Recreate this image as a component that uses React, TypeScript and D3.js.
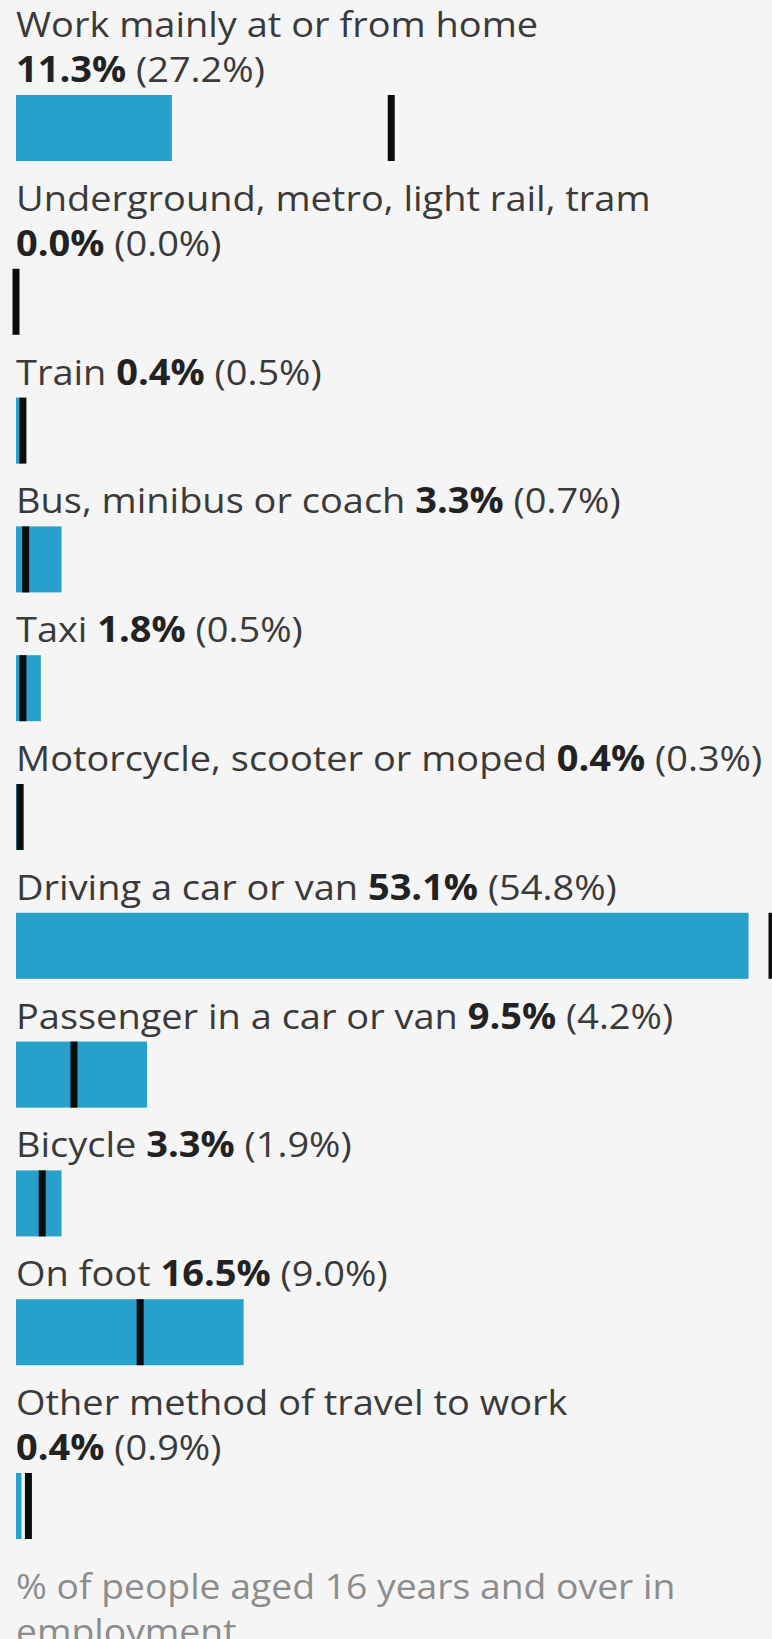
import React from "react";
import * as d3 from "d3";

const categories = [
  "Work mainly at or from home",
  "Underground, metro, light rail, tram",
  "Train",
  "Bus, minibus or coach",
  "Taxi",
  "Motorcycle, scooter or moped",
  "Driving a car or van",
  "Passenger in a car or van",
  "Bicycle",
  "On foot",
  "Other method of travel to work",
];
const areaValues = [11.3, 0.0, 0.4, 3.3, 1.8, 0.4, 53.1, 9.5, 3.3, 16.5, 0.4];
const comparisonValues = [27.2, 0.0, 0.5, 0.7, 0.5, 0.3, 54.8, 4.2, 1.9, 9.0, 0.9];
const footnote = "% of people aged 16 years and over in employment";

const W = 772;
const H = 1639;
const LEFT = 16;
const FS = 35;
const STRETCH = 1.085;
const FOOT_STRETCH = 1.066;
const FONT = '"Open Sans", sans-serif';
const LINE = 45;
const FIRST_BASE = 37;
const BAR_GAP = 13;
const BAR_H = 66;
const AFTER_BAR = 49.8;
const MARK_W = 7;

let ctx: CanvasRenderingContext2D | null = null;
function measure(text: string, bold = false, stretch = STRETCH): number {
  if (!ctx) {
    const c = document.createElement("canvas");
    ctx = c.getContext("2d");
  }
  if (!ctx) return text.length * FS * 0.55 * stretch;
  ctx.font = `${bold ? "bold " : ""}${FS}px ${FONT}`;
  return ctx.measureText(text).width * stretch;
}

const fmt = (v: number) => v.toFixed(1) + "%";

function wrapWords(text: string, maxW: number, stretch: number): string[] {
  const words = text.split(" ");
  const lines: string[] = [];
  let cur = "";
  for (const w of words) {
    const t = cur ? cur + " " + w : w;
    if (measure(t, false, stretch) > maxW && cur) {
      lines.push(cur);
      cur = w;
    } else cur = t;
  }
  if (cur) lines.push(cur);
  return lines;
}

function Line({
  y,
  children,
  fill,
  stretch = STRETCH,
}: {
  y: number;
  children: React.ReactNode;
  fill: string;
  stretch?: number;
}) {
  return (
    <text transform={`translate(${LEFT},${y}) scale(${stretch},1)`} x={0} y={0} fill={fill}>
      {children}
    </text>
  );
}

export default function App() {
  const maxV = d3.max([...areaValues, ...comparisonValues]) as number;
  const x = d3.scaleLinear().domain([0, maxV]).range([LEFT, W]);
  const avail = W - LEFT;

  let y = 0;
  const rows = categories.map((cat, i) => {
    const v = areaValues[i];
    const c = comparisonValues[i];
    const full =
      measure(cat + " ") + measure(fmt(v), true) + measure(" (" + fmt(c) + ")");
    const wrap = full > avail;
    const base1 = y + FIRST_BASE;
    const lastBase = wrap ? base1 + LINE : base1;
    const barTop = lastBase + BAR_GAP;
    y = barTop + BAR_H + AFTER_BAR - FIRST_BASE;
    return { cat, v, c, wrap, base1, lastBase, barTop };
  });
  const footBase = y + FIRST_BASE + 10;
  const footLines = wrapWords(footnote, avail, FOOT_STRETCH);

  return (
    <svg
      width={W}
      height={H}
      style={{ position: "absolute", left: 0, top: 0, display: "block" }}
      fontFamily={FONT}
      fontSize={FS}
    >
      <rect x={0} y={0} width={W} height={H} fill="#f5f5f5" />
      {rows.map((r, i) => (
        <g key={i}>
          {r.wrap ? (
            <>
              <Line y={r.base1} fill="#3a3a3a">
                {r.cat}
              </Line>
              <Line y={r.lastBase} fill="#3a3a3a">
                <tspan fontWeight="bold" fill="#222">
                  {fmt(r.v)}
                </tspan>
                <tspan>{" (" + fmt(r.c) + ")"}</tspan>
              </Line>
            </>
          ) : (
            <Line y={r.base1} fill="#3a3a3a">
              <tspan>{r.cat + " "}</tspan>
              <tspan fontWeight="bold" fill="#222">
                {fmt(r.v)}
              </tspan>
              <tspan>{" (" + fmt(r.c) + ")"}</tspan>
            </Line>
          )}
          <rect
            x={x(0)}
            y={r.barTop}
            width={Math.max(0, x(r.v) - x(0))}
            height={BAR_H}
            fill="#27a0cc"
          />
          <rect
            x={x(r.c) - MARK_W / 2}
            y={r.barTop}
            width={MARK_W}
            height={BAR_H}
            fill="#0b0c0c"
          />
        </g>
      ))}
      {footLines.map((l, i) => (
        <Line key={i} y={footBase + i * LINE} fill="#8c8c8c" stretch={FOOT_STRETCH}>
          {l}
        </Line>
      ))}
    </svg>
  );
}
